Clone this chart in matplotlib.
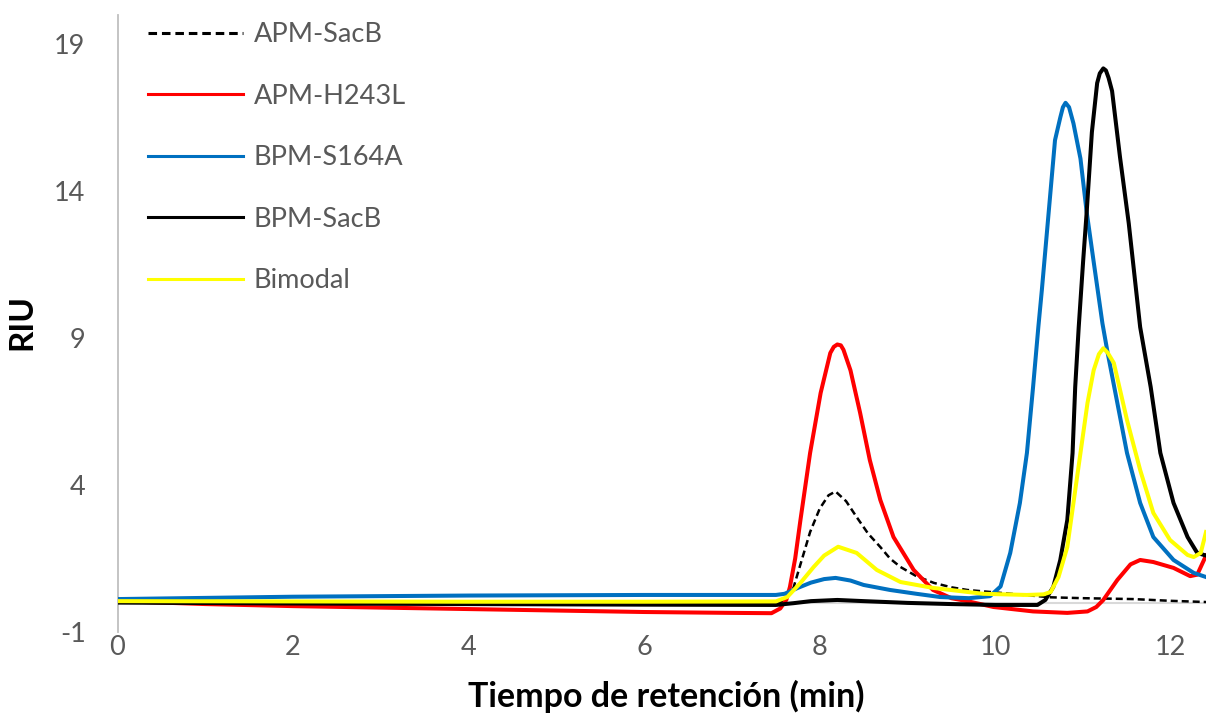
import matplotlib
matplotlib.use("Agg")
import matplotlib.pyplot as plt

# ==============================
# Data
# ==============================
apm_sacb_x = [0, 2, 4, 6, 7.5, 7.6, 7.7, 7.78, 7.89, 8.0, 8.1, 8.18, 8.3, 8.42, 8.55, 8.69,
              8.8, 8.92, 9.1, 9.3, 9.5, 9.68, 10.06, 10.63, 11.0, 11.57, 12.0, 12.4]
apm_sacb_y = [0.02, 0.0, -0.02, -0.02, 0.0, 0.05, 0.5, 1.3, 2.4, 3.2, 3.65, 3.78, 3.45, 2.91, 2.35, 1.89,
              1.5, 1.21, 0.9, 0.67, 0.52, 0.43, 0.33, 0.18, 0.15, 0.12, 0.06, 0.02]

apm_h243l_x = [0, 1, 2, 3, 4, 5, 6, 7, 7.45, 7.55, 7.62, 7.66, 7.72, 7.78, 7.89, 8.01, 8.12, 8.16,
               8.2, 8.24, 8.27, 8.35, 8.46, 8.57, 8.69, 8.84, 9.07, 9.29, 9.5, 9.68, 9.98, 10.43,
               10.82, 11.05, 11.15, 11.23, 11.39, 11.54, 11.65, 11.8, 12.03, 12.22, 12.3, 12.4]
apm_h243l_y = [0.05, -0.05, -0.12, -0.17, -0.22, -0.27, -0.32, -0.35, -0.36, -0.2, 0.1, 0.53, 1.5, 2.81,
               5.09, 7.13, 8.49, 8.7, 8.78, 8.75, 8.6, 7.9, 6.45, 4.85, 3.49, 2.23, 1.11, 0.43, 0.15,
               0.05, -0.15, -0.3, -0.35, -0.3, -0.15, 0.09, 0.77, 1.3, 1.45, 1.38, 1.18, 0.9, 0.95, 1.6]

bpm_s164a_x = [0, 2, 4, 6, 7.5, 7.6, 7.75, 7.9, 8.05, 8.18, 8.35, 8.5, 8.8, 9.1, 9.37, 9.7, 9.94,
               10.06, 10.17, 10.28, 10.36, 10.43, 10.49, 10.53, 10.58, 10.63, 10.68, 10.74, 10.77,
               10.8, 10.84, 10.89, 10.97, 11.04, 11.12, 11.22, 11.28, 11.39, 11.5, 11.65, 11.8,
               12.03, 12.26, 12.4]
bpm_s164a_y = [0.12, 0.2, 0.24, 0.26, 0.26, 0.3, 0.5, 0.68, 0.8, 0.84, 0.75, 0.6, 0.43, 0.3, 0.19,
               0.15, 0.22, 0.55, 1.69, 3.39, 5.09, 7.33, 9.37, 10.63, 12.33, 14.03, 15.73, 16.5, 16.85,
               17.0, 16.85, 16.3, 15.1, 13.3, 11.6, 9.5, 8.49, 6.79, 5.09, 3.39, 2.23,
               1.45, 1.01, 0.87]

bpm_sacb_x = [0, 2, 4, 6, 7.5, 7.7, 7.9, 8.2, 8.5, 9.0, 9.5, 10.0, 10.48, 10.57, 10.66, 10.74,
              10.82, 10.88, 10.91, 10.95, 11.0, 11.04, 11.1, 11.16, 11.19, 11.23, 11.26, 11.29,
              11.33, 11.42, 11.52, 11.65, 11.77, 11.88, 12.03, 12.19, 12.3, 12.4]
bpm_sacb_y = [0.0, -0.03, -0.05, -0.07, -0.08, -0.02, 0.05, 0.09, 0.05, -0.01, -0.05, -0.08, -0.08,
              0.09, 0.53, 1.45, 2.81, 5.09, 7.33, 9.37, 11.6, 13.25, 16.0, 17.67, 18.0, 18.17, 18.1,
              17.85, 17.4, 15.16, 12.9, 9.37, 7.33, 5.09, 3.39, 2.23, 1.69, 1.6]

bimodal_x = [0, 2, 4, 6, 7.5, 7.63, 7.78, 7.93, 8.05, 8.21, 8.42, 8.65, 8.92, 9.29, 9.86, 10.36,
             10.55, 10.63, 10.72, 10.82, 10.89, 10.97, 11.05, 11.12, 11.18, 11.23, 11.28, 11.35,
             11.5, 11.65, 11.8, 11.99, 12.19, 12.26, 12.34, 12.4]
bimodal_y = [0.05, 0.04, 0.03, 0.03, 0.04, 0.19, 0.67, 1.21, 1.6, 1.9, 1.69, 1.11, 0.7, 0.5, 0.3, 0.26,
             0.28, 0.36, 0.87, 1.89, 3.39, 5.09, 6.79, 7.9, 8.45, 8.65, 8.5, 8.15,
             6.21, 4.51, 3.05, 2.13, 1.62, 1.55, 1.69, 2.4]

x_ticks = [0, 2, 4, 6, 8, 10, 12]
y_ticks = [-1, 4, 9, 14, 19]

# ==============================
# Figure
# ==============================
plt.rcParams['font.family'] = ['Lato', 'DejaVu Sans']
plt.rcParams['axes.unicode_minus'] = False
grey_txt = "#595959"

fig = plt.figure(figsize=(12.06, 7.16), dpi=100)
ax = fig.add_axes([117.5 / 1206, 84 / 716, 1 - 117.5 / 1206, 617.4 / 716])

ax.axhline(0, color="#D9D9D9", lw=1.5, zorder=1)

ax.plot(apm_sacb_x, apm_sacb_y, color="black", lw=1.8, dashes=(2.8, 1.6), label="APM-SacB", zorder=2)
ax.plot(apm_h243l_x, apm_h243l_y, color="#FF0000", lw=2.9, label="APM-H243L", zorder=3)
ax.plot(bpm_s164a_x, bpm_s164a_y, color="#0070C0", lw=2.9, label="BPM-S164A", zorder=4)
ax.plot(bpm_sacb_x, bpm_sacb_y, color="black", lw=2.9, label="BPM-SacB", zorder=5)
ax.plot(bimodal_x, bimodal_y, color="#FFFF00", lw=2.9, label="Bimodal", zorder=6)

ax.set_xlim(0, 12.4)
ax.set_ylim(-1, 20)
ax.set_xticks(x_ticks)
ax.set_yticks(y_ticks)

for s in ["top", "right", "bottom"]:
    ax.spines[s].set_visible(False)
ax.spines["left"].set_color("#BFBFBF")
ax.spines["left"].set_linewidth(1.3)

ax.tick_params(axis="y", length=0, pad=23, labelsize=19.5, labelcolor=grey_txt)
ax.tick_params(axis="x", length=0, pad=2, labelsize=19.5, labelcolor=grey_txt)

fig.text(22 / 1206, 1 - 322 / 716, "RIU", rotation=90, ha="center", va="center",
         fontsize=24, fontweight="bold")
fig.text(666 / 1206, 1 - 696 / 716, "Tiempo de retención (min)", ha="center", va="center",
         fontsize=24.5, fontweight="bold")

leg = ax.legend(loc="upper left", bbox_to_anchor=(148 / 1206, 1 - 22 / 716),
                bbox_transform=fig.transFigure, frameon=False, fontsize=19.5,
                handlelength=3.5, handletextpad=0.4, labelspacing=1.35,
                borderaxespad=0, borderpad=0)
for t in leg.get_texts():
    t.set_color(grey_txt)
for h in leg.get_lines():
    h.set_linewidth(2.2)

fig.savefig("out.png", dpi=100)
